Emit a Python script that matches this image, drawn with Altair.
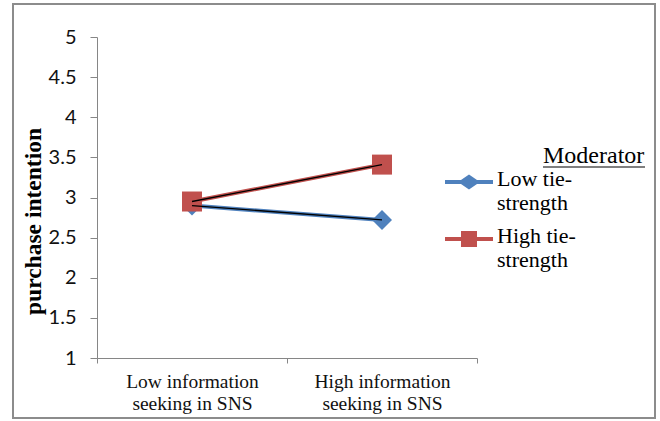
import altair as alt
import pandas as pd

# ---- data ----
conditions = ["Low information\nseeking in SNS", "High information\nseeking in SNS"]
series = ["Low tie-\nstrength", "High tie-\nstrength"]
low_tie = [2.90, 2.72]
high_tie = [2.95, 3.41]
y_ticks = [1, 1.5, 2, 2.5, 3, 3.5, 4, 4.5, 5]
colors = ["#4F81BD", "#C0504D"]

rows = []
for c, v in zip(conditions, low_tie):
    rows.append({"condition": c, "series": series[0], "value": v})
for c, v in zip(conditions, high_tie):
    rows.append({"condition": c, "series": series[1], "value": v})
df = pd.DataFrame(rows)

W, H = 380, 321
SERIF = "Liberation Serif"
GREY = "#868686"

# legend symbols: line segment + marker as one custom path, drawn beside the
# first label line
diamond_line = ("M-1,0.913H0.333L1,0.45L1.667,0.913H3V1.247H1.667L1,1.71L0.333,1.247H-1Z")
square_line = ("M-1,0.913H0.333V0.413H1.667V0.913H3V1.247H1.667V1.747H0.333V1.247H-1Z")


def cscale():
    return alt.Scale(domain=series, range=colors)


x_enc = alt.X(
    "condition:N",
    sort=conditions,
    scale=alt.Scale(paddingInner=0, paddingOuter=0),
    axis=alt.Axis(
        title=None,
        tickBand="extent",
        labelExpr="split(datum.label, '\\n')",
        labelAngle=0,
        labelFont=SERIF,
        labelFontSize=19.5,
        labelColor="#111111",
        labelLineHeight=22,
        labelBaseline="top",
        labelPadding=9,
        tickSize=5,
        tickColor=GREY,
        domainColor=GREY,
        labelAlign="center",
    ),
)
y_enc = alt.Y(
    "value:Q",
    scale=alt.Scale(domain=[1, 5], nice=False, zero=False),
    axis=alt.Axis(
        title="purchase intention",
        values=y_ticks,
        format="~g",
        grid=False,
        labelFont="Lato",
        labelFontSize=20,
        labelColor="#111111",
        labelPadding=14,
        tickSize=7,
        tickColor=GREY,
        domainColor=GREY,
        titleFont=SERIF,
        titleFontSize=23.5,
        titleFontWeight="bold",
        titleColor="#000000",
        titleAngle=-90,
        titleAlign="center",
        titleBaseline="alphabetic",
        titleX=-57,
        titleY=184,
    ),
)

base = alt.Chart(df)

colored = base.mark_line(strokeWidth=4).encode(
    x=x_enc, y=y_enc, color=alt.Color("series:N", scale=cscale(), legend=None)
)
pts_low = base.mark_point(filled=True, size=400, opacity=1, shape="diamond").encode(
    x=x_enc, y=y_enc, color=alt.Color("series:N", scale=cscale(), legend=None)
).transform_filter(alt.datum.series == series[0])
pts_high = base.mark_point(filled=True, size=400, opacity=1, shape="square").encode(
    x=x_enc, y=y_enc, color=alt.Color("series:N", scale=cscale(), legend=None)
).transform_filter(alt.datum.series == series[1])
core = base.mark_line(color="black", strokeWidth=1.3).encode(
    x=x_enc, y=y_enc, detail="series:N"
)

legend_kw = dict(
    orient="none",
    legendX=348,
    legendY=120,
    title=None,
    padding=0,
    symbolSize=576,
    symbolOpacity=1,
    symbolStrokeWidth=0,
    labelFont=SERIF,
    labelFontSize=22,
    labelColor="#000000",
    labelLimit=300,
    labelOffset=28,
    labelBaseline="top",
    labelExpr="split(datum.label, '\\n')",
    rowPadding=-23,
)
legend_layer = base.mark_point(filled=True, opacity=0, size=576).encode(
    x=x_enc,
    y=y_enc,
    color=alt.Color("series:N", scale=cscale(), sort=series, legend=alt.Legend(**legend_kw)),
    shape=alt.Shape(
        "series:N",
        sort=series,
        scale=alt.Scale(domain=series, range=[diamond_line, square_line]),
        legend=alt.Legend(**legend_kw),
    ),
)

deco = alt.Chart(alt.Data(values=[{}]))
frame = deco.mark_rect(fillOpacity=0, stroke="#8c8c8c", strokeWidth=2).encode(
    x=alt.value(-84), x2=alt.value(558), y=alt.value(-33), y2=alt.value(381)
)
mod_text = deco.mark_text(
    text="Moderator", font=SERIF, fontSize=24, align="left", baseline="alphabetic", color="#000000"
).encode(x=alt.value(446), y=alt.value(126))
mod_line = deco.mark_rule(color="#000000", strokeWidth=1.2).encode(
    x=alt.value(446), x2=alt.value(548), y=alt.value(130)
)

chart = (
    alt.layer(frame, colored, pts_low, pts_high, core, legend_layer, mod_text, mod_line)
    .resolve_scale(color="independent", shape="independent")
    .properties(
        width=W,
        height=H,
        autosize=alt.AutoSizeParams(type="none"),
        padding={"left": 97, "top": 37, "right": 183, "bottom": 63},
        background="white",
    )
    .configure(font=SERIF)
    .configure_view(stroke=None)
    .configure_legend(labelFont=SERIF, labelFontSize=22, labelColor="#000000")
)

chart.save("out.html", embed_options={"renderer": "svg", "actions": False})
